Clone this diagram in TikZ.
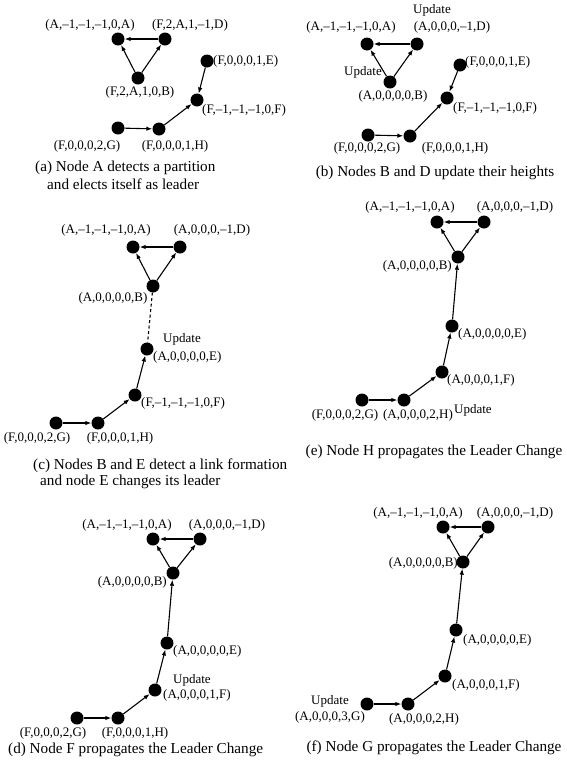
\documentclass[tikz,border=0pt]{standalone}
\usepackage{fontspec}
\setmainfont{Liberation Serif}
\usetikzlibrary{arrows.meta}

\begin{document}
\begin{tikzpicture}
		[x=1pt,y=-1pt,
		dot/.style ={circle, fill=black, inner sep=0pt, minimum size=13pt},
		lbl/.style ={inner sep=0pt, font=\fontsize{13}{15}\selectfont},
		captxt/.style ={inner sep=0pt, font=\fontsize{15.2}{18}\selectfont},
		link/.style ={line width=1.1pt, -{Latex[length=6pt,width=4.5pt]}},
		newlink/.style ={draw, line width=1.1pt, dash pattern=on 3pt off 2.5pt}]
		\useasboundingbox (0,0) rectangle (567,769);

		% (a)
		\node[dot] (aA) at (118,39) {};
		\node[dot] (aD) at (165,39) {};
		\node[dot] (aB) at (138,78) {};
		\node[dot] (aE) at (207,61) {};
		\node[dot] (aF) at (197,100) {};
		\node[dot] (aG) at (118,128) {};
		\node[dot] (aH) at (159,129) {};
		\node[lbl] (laA) at (90,25) {(A,--1,--1,--1,0,A)};
		\node[lbl] (laD) at (190,25) {(F,2,A,1,--1,D)};
		\node[lbl] (laB) at (140,92) {(F,2,A,1,0,B)};
		\node[lbl, anchor=west] (laE) at (213,61) {(F,0,0,0,1,E)};
		\node[lbl, anchor=west] (laF) at (202,110) {(F,--1,--1,--1,0,F)};
		\node[lbl] (laG) at (87,146) {(F,0,0,0,2,G)};
		\node[lbl] (laH) at (175,146) {(F,0,0,0,1,H)};
		\node[captxt, anchor=west] (capa1) at (35,168) {(a) Node A detects a partition};
		\node[captxt, anchor=west] (capa2) at (47,184) {and elects itself as leader};
		\path[link]
		(aD) edge (aA)
		(aB) edge (aA)
		(aB) edge (aD)
		(aE) edge (aF)
		(aH) edge (aF)
		(aG) edge (aH);

		% (b)
		\node[dot] (bA) at (367,44) {};
		\node[dot] (bD) at (417,44) {};
		\node[dot] (bB) at (390,82) {};
		\node[dot] (bE) at (460,65) {};
		\node[dot] (bF) at (447,98) {};
		\node[dot] (bG) at (368,135) {};
		\node[dot] (bH) at (410,136) {};
		\node[lbl] (ubD) at (432,10) {Update};
		\node[lbl] (lbA) at (351,27) {(A,--1,--1,--1,0,A)};
		\node[lbl] (lbD) at (452,27) {(A,0,0,0,--1,D)};
		\node[lbl] (ubB) at (363,72) {Update};
		\node[lbl] (lbB) at (393,96) {(A,0,0,0,0,B)};
		\node[lbl, anchor=west] (lbE) at (465,62) {(F,0,0,0,1,E)};
		\node[lbl, anchor=west] (lbF) at (453,108) {(F,--1,--1,--1,0,F)};
		\node[lbl] (lbG) at (367,148) {(F,0,0,0,2,G)};
		\node[lbl] (lbH) at (455,148) {(F,0,0,0,1,H)};
		\node[captxt] (capb) at (435,173) {(b) Nodes B and D update their heights};
		\path[link]
		(bD) edge (bA)
		(bB) edge (bA)
		(bB) edge (bD)
		(bE) edge (bF)
		(bH) edge (bF)
		(bG) edge (bH);

		% (c)
		\node[dot] (cA) at (133,247) {};
		\node[dot] (cD) at (180,247) {};
		\node[dot] (cB) at (153,286) {};
		\node[dot] (cE) at (147,349) {};
		\node[dot] (cF) at (135,395) {};
		\node[dot] (cG) at (56,423) {};
		\node[dot] (cH) at (98,423) {};
		\node[lbl] (lcA) at (106,230) {(A,--1,--1,--1,0,A)};
		\node[lbl] (lcD) at (212,230) {(A,0,0,0,--1,D)};
		\node[lbl] (lcB) at (113,298) {(A,0,0,0,0,B)};
		\node[lbl] (ucE) at (182,339) {Update};
		\node[lbl, anchor=west] (lcE) at (153,357) {(A,0,0,0,0,E)};
		\node[lbl, anchor=west] (lcF) at (141,403) {(F,--1,--1,--1,0,F)};
		\node[lbl] (lcG) at (37,438) {(F,0,0,0,2,G)};
		\node[lbl] (lcH) at (120,438) {(F,0,0,0,1,H)};
		\node[captxt, anchor=west] (capc1) at (33,466) {(c) Nodes B and E detect a link formation};
		\node[captxt, anchor=west] (capc2) at (40,482) {and node E changes its leader};
		\path[link]
		(cD) edge (cA)
		(cB) edge (cA)
		(cB) edge (cD)
		(cF) edge (cE)
		(cH) edge (cF)
		(cG) edge (cH);
		\draw[newlink] (cB) -- (cE);

		% (e)
		\node[dot] (eA) at (437,222) {};
		\node[dot] (eD) at (484,222) {};
		\node[dot] (eB) at (458,257) {};
		\node[dot] (eE) at (452,326) {};
		\node[dot] (eF) at (442,372) {};
		\node[dot] (eG) at (362,400) {};
		\node[dot] (eH) at (404,400) {};
		\node[lbl] (leA) at (410,207) {(A,--1,--1,--1,0,A)};
		\node[lbl] (leD) at (515,207) {(A,0,0,0,--1,D)};
		\node[lbl, anchor=east] (leB) at (452,266) {(A,0,0,0,0,B)};
		\node[lbl, anchor=west] (leE) at (458,334) {(A,0,0,0,0,E)};
		\node[lbl, anchor=west] (leF) at (447,380) {(A,0,0,0,1,F)};
		\node[lbl] (leG) at (345,415) {(F,0,0,0,2,G)};
		\node[lbl] (leH) at (418,415) {(A,0,0,0,2,H)};
		\node[lbl, anchor=west] (ueH) at (454,410) {Update};
		\node[captxt] (cape) at (434,452) {(e) Node H propagates the Leader Change};
		\path[link]
		(eD) edge (eA)
		(eB) edge (eA)
		(eB) edge (eD)
		(eE) edge (eB)
		(eF) edge (eE)
		(eH) edge (eF)
		(eG) edge (eH);

		% (d)
		\node[dot] (dA) at (153,539) {};
		\node[dot] (dD) at (200,539) {};
		\node[dot] (dB) at (173,573) {};
		\node[dot] (dE) at (167,643) {};
		\node[dot] (dF) at (155,690) {};
		\node[dot] (dG) at (77,718) {};
		\node[dot] (dH) at (118,718) {};
		\node[lbl] (ldA) at (127,525) {(A,--1,--1,--1,0,A)};
		\node[lbl] (ldD) at (227,525) {(A,0,0,0,--1,D)};
		\node[lbl, anchor=east] (ldB) at (167,582) {(A,0,0,0,0,B)};
		\node[lbl, anchor=west] (ldE) at (173,651) {(A,0,0,0,0,E)};
		\node[lbl, anchor=west] (udF) at (173,680) {Update};
		\node[lbl, anchor=west] (ldF) at (163,695) {(A,0,0,0,1,F)};
		\node[lbl] (ldG) at (53,733) {(F,0,0,0,2,G)};
		\node[lbl] (ldH) at (135,733) {(F,0,0,0,1,H)};
		\node[captxt, anchor=west] (capd) at (8,750) {(d) Node F propagates the Leader Change};
		\path[link]
		(dD) edge (dA)
		(dB) edge (dA)
		(dB) edge (dD)
		(dE) edge (dB)
		(dF) edge (dE)
		(dH) edge (dF)
		(dG) edge (dH);

		% (f)
		\node[dot] (fA) at (443,527) {};
		\node[dot] (fD) at (488,527) {};
		\node[dot] (fB) at (463,562) {};
		\node[dot] (fE) at (456,630) {};
		\node[dot] (fF) at (445,676) {};
		\node[dot] (fG) at (367,704) {};
		\node[dot] (fH) at (408,704) {};
		\node[lbl] (lfA) at (418,513) {(A,--1,--1,--1,0,A)};
		\node[lbl] (lfD) at (515,513) {(A,0,0,0,--1,D)};
		\node[lbl, anchor=east] (lfB) at (458,563) {(A,0,0,0,0,B)};
		\node[lbl, anchor=west] (lfE) at (463,640) {(A,0,0,0,0,E)};
		\node[lbl, anchor=west] (lfF) at (452,685) {(A,0,0,0,1,F)};
		\node[lbl] (ufG) at (330,701) {Update};
		\node[lbl] (lfG) at (330,717) {(A,0,0,0,3,G)};
		\node[lbl] (lfH) at (424,719) {(A,0,0,0,2,H)};
		\node[captxt] (capf) at (434,748) {(f) Node G propagates the Leader Change};
		\path[link]
		(fD) edge (fA)
		(fB) edge (fA)
		(fB) edge (fD)
		(fE) edge (fB)
		(fF) edge (fE)
		(fH) edge (fF)
		(fG) edge (fH);

	\end{tikzpicture}
\end{document}
